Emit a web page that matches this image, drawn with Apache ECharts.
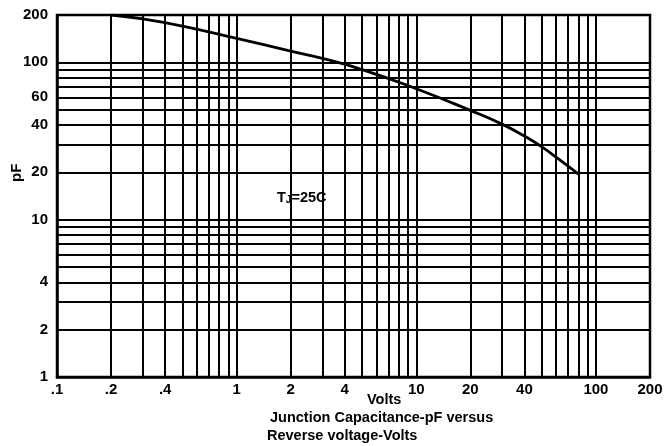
<!DOCTYPE html>
<html>
<head>
<meta charset="utf-8">
<script src="https://cdn.jsdelivr.net/npm/echarts@6/dist/echarts.min.js"></script>
<style>html,body{margin:0;padding:0;background:#fff}#c{width:666px;height:446px}</style>
</head>
<body>
<div id="c"></div>
<script>
// Data
const volts = [0.2, 0.3, 0.5, 1, 2, 3, 5, 10, 20, 30, 40, 50, 60, 80];
const capacitance = [200, 189, 170, 142, 118, 106, 90, 68, 49.5, 40.5, 34, 29, 25, 19.5];
const xTickLabels = [0.1, 0.2, 0.4, 1, 2, 4, 10, 20, 40, 100, 200];
const yTickLabels = [1, 2, 4, 10, 20, 40, 60, 100, 200];
const xGridValues = [0.2,0.3,0.4,0.5,0.6,0.7,0.8,0.9,1,2,3,4,5,6,7,8,9,10,20,30,40,50,60,70,80,90,100];
const yGridValues = [2,3,4,5,6,7,8,9,10,20,30,40,50,60,70,80,90,100];

const chart = echarts.init(document.getElementById('c'), null, {renderer: 'canvas'});
const font = 'Liberation Sans, Arial, sans-serif';
const fmt = v => (v < 1 ? String(+v.toFixed(2)).replace(/^0/, '') : String(+v.toFixed(2)));
const gridLine = {color: '#000', width: 2, type: 'solid'};

chart.setOption({
  animation: false,
  backgroundColor: '#fff',
  grid: {left: 57, right: 16, top: 15, bottom: 69, show: true, borderColor: '#000', borderWidth: 2.5, backgroundColor: 'transparent'},
  xAxis: {
    type: 'log', logBase: 10, min: 0.1, max: 200,
    axisLine: {show: true, lineStyle: {color: '#000', width: 2.5}},
    axisTick: {show: false},
    splitLine: {show: false},
    axisLabel: {customValues: xTickLabels, formatter: fmt, color: '#000', fontFamily: font, fontSize: 15, fontWeight: 'bold', margin: 5, showMinLabel: true, showMaxLabel: true}
  },
  yAxis: {
    type: 'log', logBase: 10, min: 1, max: 200,
    axisLine: {show: true, lineStyle: {color: '#000', width: 2.5}},
    axisTick: {show: false},
    splitLine: {show: false},
    axisLabel: {customValues: yTickLabels, formatter: fmt, color: '#000', fontFamily: font, fontSize: 15, fontWeight: 'bold', margin: 9, showMinLabel: true, showMaxLabel: true}
  },
  series: [{
    type: 'line',
    data: volts.map((v, i) => [v, capacitance[i]]),
    smooth: 0.5,
    showSymbol: false,
    lineStyle: {color: '#000', width: 2.8},
    z: 5,
    markLine: {
      silent: true,
      symbol: ['none', 'none'],
      label: {show: false},
      lineStyle: gridLine,
      animation: false,
      data: xGridValues.map(v => ({xAxis: v})).concat(yGridValues.map(v => ({yAxis: v})))
    }
  }],
  graphic: [
    {type: 'text', left: 367, top: 392, style: {text: 'Volts', font: 'bold 14.5px ' + font, fill: '#000'}},
    {type: 'text', left: 270, top: 410, style: {text: 'Junction Capacitance-pF versus', font: 'bold 14.5px ' + font, fill: '#000'}},
    {type: 'text', left: 267, top: 428, style: {text: 'Reverse voltage-Volts', font: 'bold 14.5px ' + font, fill: '#000'}},
    {type: 'text', x: 9, y: 182, rotation: Math.PI / 2, style: {text: 'pF', font: 'bold 15px ' + font, fill: '#000'}},
    {type: 'text', left: 277, top: 190, style: {
      text: '{t|T}{s|J}{t|=25C}',
      rich: {t: {font: 'bold 14.5px ' + font, fill: '#000'}, s: {font: 'bold 10px ' + font, fill: '#000', padding: [6, 0, 0, 0]}}
    }}
  ]
});
</script>
</body>
</html>
